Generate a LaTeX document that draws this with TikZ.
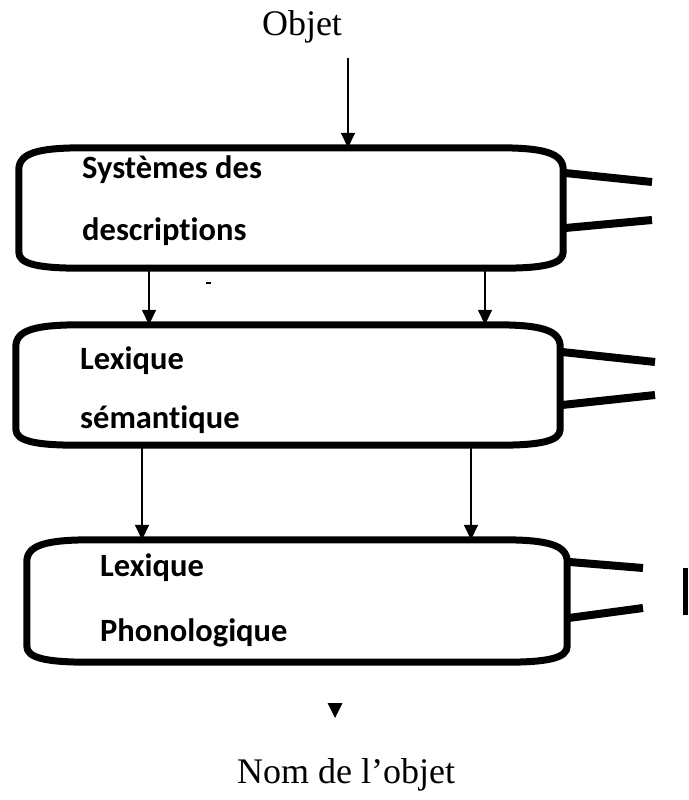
\documentclass[tikz,border=0pt]{standalone}
\usepackage{fontspec}
\setmainfont{Liberation Serif}
\newfontfamily\calib{Carlito}[Ligatures=NoCommon]
\usetikzlibrary{arrows.meta,calc}
\tikzset{
  serif/.style={font=\fontsize{36}{40}\selectfont, inner sep=0pt},
  lab/.style={font=\calib\bfseries\fontsize{32.5}{36}\selectfont, inner sep=0pt, anchor=base west},
  boxn/.style={draw=none, inner sep=0pt, minimum width=#1},
  boxline/.style={line width=7pt, line join=round},
  tail/.style={line width=8pt},
  arr/.style={line width=1.6pt, -{Triangle[length=15pt,width=14pt]}},
}
\newcommand\drawcable[1]{%
  \draw[boxline]
    ([yshift=-22pt]#1.north west) .. controls ([yshift=-5pt]#1.north west) and ([xshift=20pt]#1.north west) .. ([xshift=65pt]#1.north west)
    -- ([xshift=-65pt]#1.north east) .. controls ([xshift=-20pt]#1.north east) and ([yshift=-5pt]#1.north east) .. ([yshift=-22pt]#1.north east)
    -- ([yshift=16pt]#1.south east) .. controls ([yshift=4pt]#1.south east) and ([xshift=-20pt]#1.south east) .. ([xshift=-62pt]#1.south east)
    -- ([xshift=62pt]#1.south west) .. controls ([xshift=20pt]#1.south west) and ([yshift=4pt]#1.south west) .. ([yshift=16pt]#1.south west)
    -- cycle;}
\begin{document}
\begin{tikzpicture}[x=1pt,y=-1pt]
\useasboundingbox (0,0) rectangle (688,800);

% boxes (invisible nodes) and outlines
\node[boxn=544, minimum height=120pt] (b1) at (291,208) {};
\node[boxn=544, minimum height=120pt] (b2) at (288,385) {};
\node[boxn=540, minimum height=122pt] (b3) at (297,601) {};
\drawcable{b1}
\drawcable{b2}
\drawcable{b3}

% tails
\coordinate (t1a) at (652,182); \coordinate (t1b) at (652,220);
\coordinate (t2a) at (655,362); \coordinate (t2b) at (655,395);
\coordinate (t3a) at (643,568); \coordinate (t3b) at (643,608);
\draw[tail] ([yshift=-25pt]b1.north east) -- (t1a);
\draw[tail] ([yshift=40pt]b1.south east) -- (t1b);
\draw[tail] ([yshift=-27pt]b2.north east) -- (t2a);
\draw[tail] ([yshift=40pt]b2.south east) -- (t2b);
\draw[tail] ([yshift=-22pt]b3.north east) -- (t3a);
\draw[tail] ([yshift=44pt]b3.south east) -- (t3b);

% right bar
\fill (683,568) rectangle (688,615);

% texts
\node[serif, anchor=base] (obj) at (302,36) {Objet};
\node[serif, anchor=base] (nom) at (346,783) {Nom de l’objet};

\node[lab] (s1) at (82,178) {Systèmes des};
\node[lab] (s2) at (82,240) {descriptions};
\node[lab] (l1) at (80,369) {Lexique};
\node[lab] (l2) at (80,428) {sémantique};
\node[lab] (p1) at (100,576) {Lexique};
\begin{scope}
\clip (0,600) rectangle (688,650);
\node[lab] (p2) at (100,641) {Phonologique};
\end{scope}

% arrows
\coordinate (a0) at (348,58);
\coordinate (x1) at (149,0); \coordinate (x2) at (485,0);
\coordinate (x3) at (142,0); \coordinate (x4) at (471,0);
\draw[arr] (a0) -- (b1.north -| a0);
\draw[arr] (b1.south -| x1) -- (b2.north -| x1);
\draw[arr] (b1.south -| x2) -- (b2.north -| x2);
\draw[arr] (b2.south -| x3) -- (b3.north -| x3);
\draw[arr] (b2.south -| x4) -- (b3.north -| x4);

% small mark and lone arrowhead
\draw[line width=2pt] (206,283) -- (211,283);
\coordinate (tip) at (335,718);
\fill (tip) -- ++(-7.5,-15) -- ++(15,0) -- cycle;
\end{tikzpicture}
\end{document}
